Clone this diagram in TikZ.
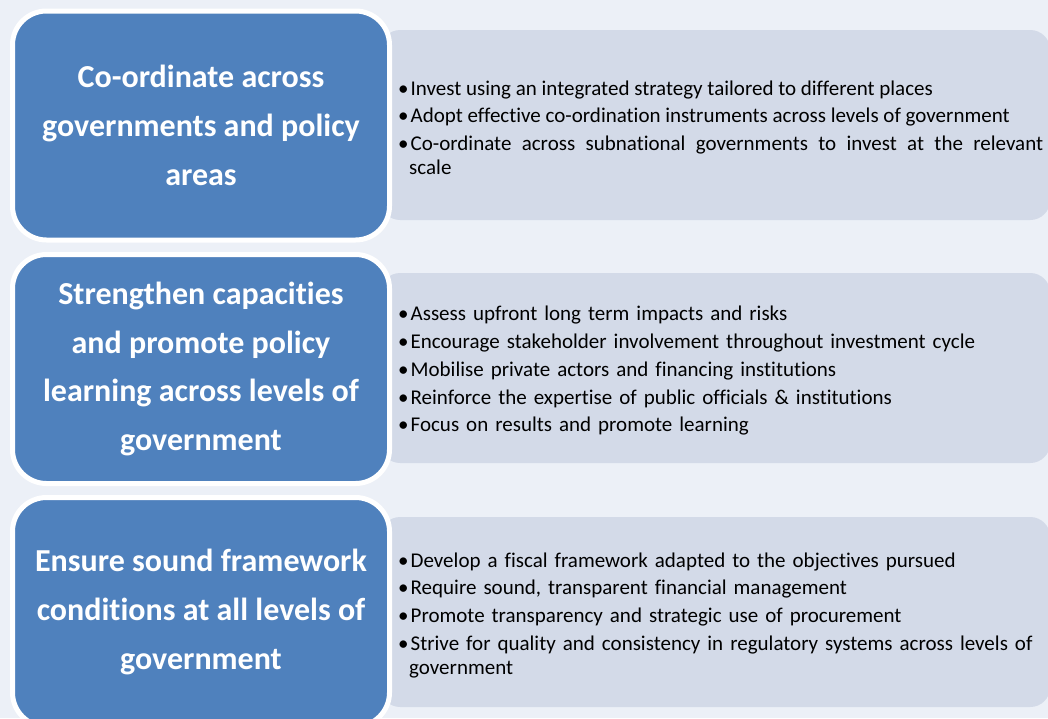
\documentclass[tikz,border=0pt]{standalone}
\usepackage{fontspec}
\setmainfont{Carlito}[Ligatures=NoCommon]
\usepackage{enumitem}
\setlist[itemize]{label=\textbullet,leftmargin=11pt,labelwidth=9pt,labelsep=2pt,align=left,topsep=0pt,partopsep=0pt,parsep=0pt,itemsep=3.4pt}
\usetikzlibrary{positioning}
\definecolor{fond}{RGB}{236,240,247}
\definecolor{bleu}{RGB}{79,129,189}
\definecolor{gris}{RGB}{211,218,232}
\hyphenpenalty=10000
\begin{document}
\begin{tikzpicture}[x=1pt,y=-1pt,
	titre/.style={draw=white,line width=5pt,fill=bleu,rounded corners=34pt,minimum width=377pt,minimum height=229pt,inner sep=0pt,text=white,align=center,font=\bfseries\fontsize{32}{48.7}\selectfont},
	detail/.style={fill=gris,rounded corners=20pt,minimum width=670pt,minimum height=190pt,inner sep=0pt,anchor=west},
	liste/.style={anchor=west,text width=645pt,inner sep=0pt,font=\fontsize{21}{24.3}\selectfont}]
	% Fond
	\fill [fond] (0,0) rectangle (1048,718);
	\useasboundingbox (0,0) rectangle (1048,718);
	% Cadres gris
	\node [detail] (g1) at (380,125) {};
	\node [detail] (g2) at (380,368) {};
	\node [detail] (g3) at (380,612) {};
	% Titres
	\node [titre] (b1) at (201,125.5) {Co-ordinate across\\governments and policy\\areas};
	\node [titre] (b2) at (201,369) {Strengthen capacities\\and promote policy\\learning across levels of\\government};
	\node [titre] (b3) at (201,612) {Ensure sound framework\\conditions at all levels of\\government};
	% Listes
	\node [liste,align=justify] (l1) at ([xshift=18pt,yshift=2pt]g1.west) {\begin{itemize}
		\item Invest using an integrated strategy tailored to different places
		\item Adopt effective co-ordination instruments across levels of government
		\item Co-ordinate across subnational governments to invest at the relevant\linebreak scale
	\end{itemize}};
	\node [liste,align=left] (l2) at ([xshift=18pt,yshift=2pt]g2.west) {\begin{itemize}
		\item Assess upfront long term impacts and risks
		\item Encourage stakeholder involvement throughout investment cycle
		\item Mobilise private actors and financing institutions
		\item Reinforce the expertise of public officials \& institutions
		\item Focus on results and promote learning
	\end{itemize}};
	\node [liste,align=left] (l3) at ([xshift=18pt,yshift=1.5pt]g3.west) {\begin{itemize}
		\item Develop a fiscal framework adapted to the objectives pursued
		\item Require sound, transparent financial management
		\item Promote transparency and strategic use of procurement
		\item Strive for quality and consistency in regulatory systems across levels of government
	\end{itemize}};
\end{tikzpicture}
\end{document}
